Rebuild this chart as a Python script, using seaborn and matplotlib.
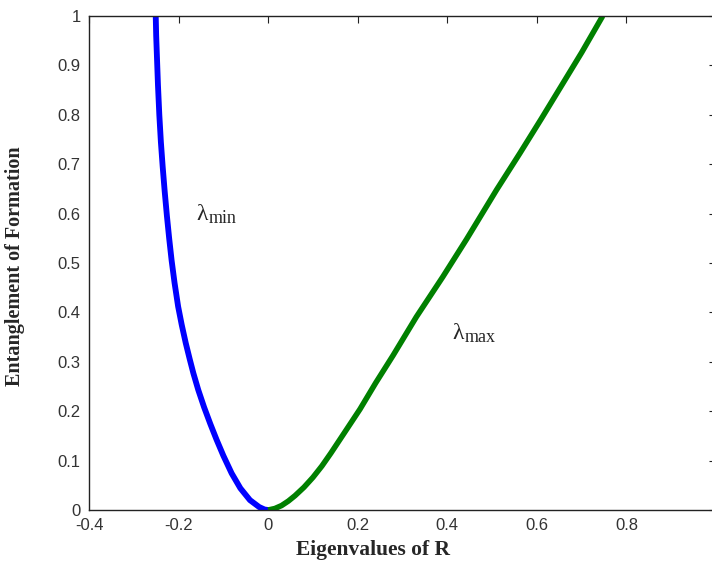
import matplotlib
matplotlib.use("Agg")
import matplotlib.pyplot as plt
import seaborn as sns
import pandas as pd

# Data
lam_min_x = [-0.251, -0.250, -0.248, -0.246, -0.243, -0.2395, -0.2355, -0.231,
             -0.226, -0.221, -0.2155, -0.209, -0.201, -0.193, -0.184, -0.175,
             -0.167, -0.156, -0.143, -0.129, -0.115, -0.100, -0.0815, -0.062,
             -0.0406, -0.020, -0.008, 0.0]
lam_min_y = [1.0, 0.96, 0.91, 0.86, 0.80, 0.745, 0.695, 0.645,
             0.595, 0.55, 0.505, 0.46, 0.412, 0.375, 0.338, 0.305,
             0.277, 0.243, 0.208, 0.174, 0.142, 0.110, 0.0743, 0.044,
             0.020, 0.006, 0.001, 0.0]
lam_max_x = [0.0, 0.015, 0.03, 0.045, 0.06, 0.08, 0.10, 0.12, 0.14, 0.17,
             0.205, 0.24, 0.279, 0.331, 0.39, 0.443, 0.51, 0.562, 0.61,
             0.651, 0.70, 0.747]
lam_max_y = [0.0, 0.003, 0.009, 0.018, 0.029, 0.046, 0.066, 0.089, 0.115, 0.156,
             0.204, 0.257, 0.313, 0.391, 0.472, 0.548, 0.648, 0.722, 0.792,
             0.853, 0.926, 1.0]

x_ticks = [-0.4, -0.2, 0, 0.2, 0.4, 0.6, 0.8, 1.0]
x_tick_labels = ["-0.4", "-0.2", "0", "0.2", "0.4", "0.6", "0.8", "1"]
y_ticks = [0, 0.1, 0.2, 0.3, 0.4, 0.5, 0.6, 0.7, 0.8, 0.9, 1.0]
y_tick_labels = ["0", "0.1", "0.2", "0.3", "0.4", "0.5", "0.6", "0.7", "0.8", "0.9", "1"]

x_label = "Eigenvalues of R"
y_label = "Entanglement of Formation"
ann_min = ("λ", "min")
ann_max = ("λ", "max")

sns.set_style("white")
plt.rcParams["font.family"] = ["Liberation Sans", "DejaVu Sans"]

fig = plt.figure(figsize=(7.12, 5.67), dpi=100)
ax = fig.add_axes([89 / 712, 57 / 567, 627 / 712, 494 / 567])

df_min = pd.DataFrame({"x": lam_min_x, "y": lam_min_y})
df_max = pd.DataFrame({"x": lam_max_x, "y": lam_max_y})
sns.lineplot(data=df_min, x="x", y="y", sort=False, color="#0000ff", linewidth=4.2,
             ax=ax, solid_joinstyle="round", solid_capstyle="butt")
sns.lineplot(data=df_max, x="x", y="y", sort=False, color="#008000", linewidth=4.0,
             ax=ax, solid_joinstyle="round", solid_capstyle="butt")

ax.set_xlim(-0.4, 1.0)
ax.set_ylim(0, 1.0)
ax.set_xticks(x_ticks)
ax.set_xticklabels(x_tick_labels)
ax.set_yticks(y_ticks)
ax.set_yticklabels(y_tick_labels)
ax.tick_params(direction="in", length=5, width=0.8, top=True, right=True,
               labelsize=12, colors="#222222", pad=6)
ax.tick_params(axis="both", labelcolor="#333333")
for s in ax.spines.values():
    s.set_visible(True)
    s.set_color("#222222")
    s.set_linewidth(1.0)

serif = ["Liberation Serif", "DejaVu Serif"]
ax.set_xlabel(x_label, fontsize=15.5, fontweight="bold", family=serif)
ax.set_ylabel(y_label, fontsize=14.5, fontweight="bold", family=serif)
ax.xaxis.set_label_coords((373 - 89) / 627, -(540 - 510) / 494)
ax.yaxis.set_label_coords(-(89 - 25) / 627, (510 - 266) / 494)

for (sym, sub), (tx, ty) in zip([ann_min, ann_max], [(-0.1596, 0.587), (0.4118, 0.346)]):
    ax.text(tx, ty, sym, fontsize=17, family=serif, ha="left", va="baseline")
    ax.annotate(sub, xy=(tx, ty), xytext=(8.5, -2), textcoords="offset points",
                fontsize=13, family=serif, ha="left", va="baseline")

fig.savefig("out.png", dpi=100)
